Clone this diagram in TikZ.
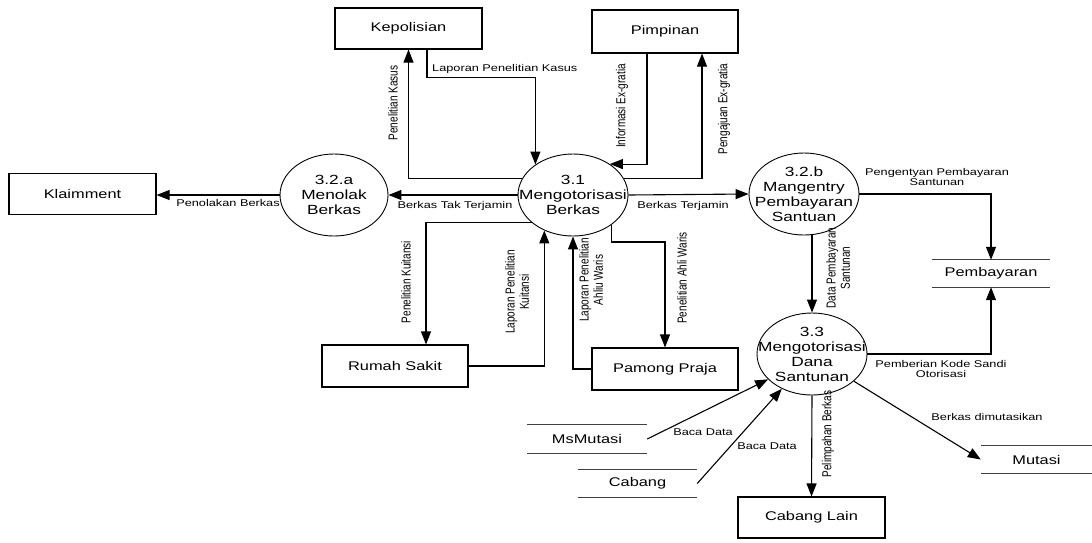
\documentclass[tikz,border=0pt]{standalone}
\usepackage{fontspec}
\setmainfont{Liberation Sans}
\newfontfamily\widefont[FakeStretch=1.3]{Liberation Sans}
\usetikzlibrary{shapes.geometric,arrows.meta}
\begin{document}
\begin{tikzpicture}[x=1pt,y=-1pt,
  ent/.style={draw, line width=1.1pt, minimum width=146pt, minimum height=41pt, inner sep=0pt,
    font=\widefont\fontsize{12.6}{14}\selectfont},
  proc/.style={ellipse, draw, line width=0.9pt, minimum width=110pt, minimum height=82pt,
    inner xsep=-16pt, inner ysep=0pt, align=center, font=\widefont\fontsize{13.3}{15}\selectfont},
  store/.style={minimum width=118pt, minimum height=27pt, inner sep=0pt,
    font=\widefont\fontsize{12.6}{14}\selectfont},
  storeline/.style={line width=1.1pt, black!75},
  flow/.style={-{Triangle[length=13pt,width=10pt]}, line width=1.1pt},
  hl/.style={font=\widefont\fontsize{9.8}{10.5}\selectfont, align=center, inner sep=1pt},
  vl/.style={font=\fontsize{10}{11}\selectfont, align=center, inner sep=1pt, xscale=1.3, rotate=90},
]
\useasboundingbox (0,0) rectangle (1092,542);

% external entities
\node[ent, minimum width=147pt] (kep) at (408.5,28.5) {Kepolisian};
\node[ent, minimum height=43pt] (pim) at (665,31.5) {Pimpinan};
\node[ent, minimum width=147pt] (kla) at (82.5,194) {Klaimment};
\node[ent, minimum height=42pt] (rs) at (395,366) {Rumah Sakit};
\node[ent, minimum height=42pt] (pp) at (665,369) {Pamong Praja};
\node[ent, minimum width=147pt] (cl) at (811.5,517.5) {Cabang Lain};

% processes
\node[proc, minimum width=108pt] (c32a) at (334,195) {3.2.a\\Menolak\\Berkas};
\node[proc] (c31) at (573,195) {3.1\\Mengotorisasi\\Berkas};
\node[proc] (c32b) at (804,194) {3.2.b\\Mangentry\\Pembayaran\\Santuan};
\node[proc] (c33) at (812,354) {3.3\\Mengotorisasi\\Dana\\Santunan};

% data stores
\node[store] (pem) at (991,273.5) {Pembayaran};
\node[store, minimum width=120pt, minimum height=28pt] (msm) at (587,439) {MsMutasi};
\node[store, minimum width=119pt] (cab) at (637.5,483.5) {Cabang};
\node[store, minimum width=111pt] (mut) at (1036.5,459.5) {Mutasi};
\foreach \s in {pem,msm,cab,mut}{
  \draw[storeline] (\s.north west) -- (\s.north east);
  \draw[storeline] (\s.south west) -- (\s.south east);
}

% flows
\draw[flow] (c31.162) -| (kep.south);
\draw[flow] ([xshift=18.5pt]kep.south) -- ++(0,28) -| (c31.141);
\draw[flow] ([xshift=-18pt]pim.south) |- (c31.40);
\draw[flow] (c31.18) -| ([xshift=37pt]pim.south);
\draw[flow] (c31.west) -- (c32a.east);
\draw[flow] (c31.east) -- (c32b.west);
\draw[flow] (c32a.west) -- (c32a.west -| kla.east);
\draw[flow] (c31.214) -| ([xshift=31pt]rs.north);
\draw[flow] (rs.east) -| (c31.231);
\draw[flow] (pp.west) -| (c31.south);
\draw[flow] (c31.-38) -- ++(0,17) -| (pp.north);
\draw[flow] (c32b.south -| c33.north) -- (c33.north);
\draw[flow] (c32b.east) -| (pem.north);
\draw[flow] (c33.east) -| (pem.south);
\draw[flow] (msm.east) -- (c33.210);
\draw[flow] (cab.east) -- (c33.229);
\draw[flow] (c33.south) -- (cl.north);
\draw[flow] (c33.-33) -- (mut.west);

% horizontal labels
\node[hl, anchor=west] (l1) at (431,69) {Laporan Penelitian Kasus};
\node[hl] (l2) at (455,206) {Berkas Tak Terjamin};
\node[hl] (l3) at (683,206) {Berkas Terjamin};
\node[hl] (l4) at (228,203) {Penolakan Berkas};
\node[hl] (l5) at (937,177) {Pengentyan Pembayaran\\Santunan};
\node[hl] (l6) at (941,369) {Pemberian Kode Sandi\\Otorisasi};
\node[hl] (l7) at (703,432) {Baca Data};
\node[hl] (l8) at (767,446) {Baca Data};
\node[hl] (l9) at (987,417) {Berkas dimutasikan};

% vertical labels
\node[vl] (v1) at (393,103) {Penelitian Kasus};
\node[vl] (v2) at (622,106) {Informasi Ex-gratia};
\node[vl] (v3) at (724,109) {Pengajuan Ex-gratia};
\node[vl] (v4) at (406,282) {Penelitian Kuitansi};
\node[vl] (v5) at (517,292) {Laporan Penelitian\\Kuitansi};
\node[vl] (v6) at (591,280) {Laporan Penelitian\\Ahliu Waris};
\node[vl] (v7) at (682,278) {Penelitian Ahli Waris};
\node[vl] (v8) at (838,268) {Data Pembayaran\\Santunan};
\node[vl] (v9) at (828,434) {Pelimpahan Berkas};
\end{tikzpicture}
\end{document}
